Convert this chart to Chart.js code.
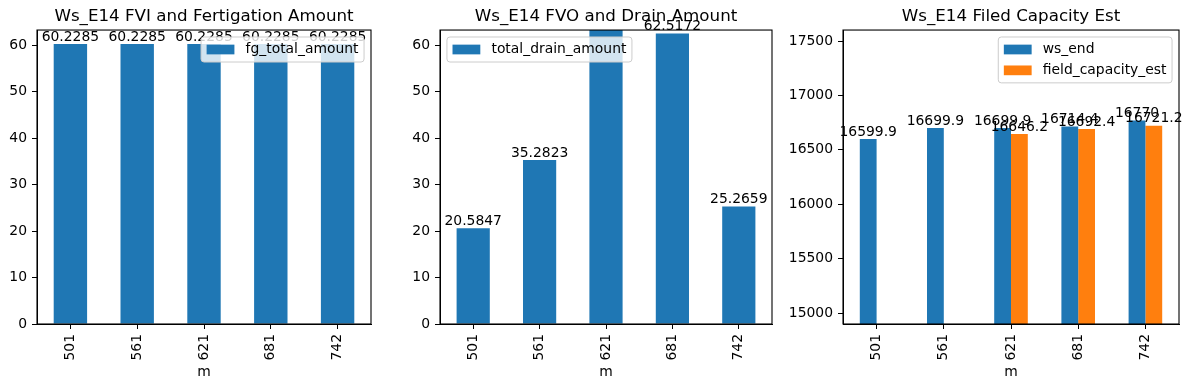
<!DOCTYPE html>
<html>
<head>
<meta charset="utf-8">
<script src="https://cdn.jsdelivr.net/npm/chart.js@4.4.0/dist/chart.umd.min.js"></script>
<style>
  html, body { margin: 0; padding: 0; background: #fff; }
  #fig { position: relative; width: 1189px; height: 390px; overflow: hidden; }
  canvas { position: absolute; top: 0; }
</style>
</head>
<body>
<div id="fig">
  <canvas id="fviChart" width="381" height="390" style="left:0px"></canvas>
  <canvas id="fvoChart" width="379" height="390" style="left:403px"></canvas>
  <canvas id="capChart" width="404" height="390" style="left:785px"></canvas>
</div>
<script>
// Data
const categories = ['501', '561', '621', '681', '742'];
const fgTotalAmount = [60.2285, 60.2285, 60.2285, 60.2285, 60.2285];
const totalDrainAmount = [20.5847, 35.2823, 80, 62.5172, 25.2659]; // 621 goes off the top
const wsEnd = [16599.9, 16699.9, 16699.9, 16714.4, 16770];
const fieldCapacityEst = [null, null, 16646.2, 16692.4, 16721.2];

// y tick labels and axis limits
const amountTicks = [0, 10, 20, 30, 40, 50, 60];
const capacityTicks = [15000, 15500, 16000, 16500, 17000, 17500];
const amountLimits = [0, 63.24];
const capacityLimits = [14899, 17601];

const BLUE = '#1f77b4';
const ORANGE = '#ff7f0e';
const FONT = 'DejaVu Sans';
const font = { family: FONT, size: 13.9 };

// box around the plot area (all four spines)
const frame = {
  id: 'frame',
  afterDatasetsDraw(chart) {
    const { ctx, chartArea: a } = chart;
    ctx.save();
    ctx.strokeStyle = '#000';
    ctx.lineWidth = 1.1;
    ctx.strokeRect(a.left, a.top, a.right - a.left, a.bottom - a.top);
    ctx.restore();
  }
};

// value labels on top of bars
const barLabels = {
  id: 'barLabels',
  afterDatasetsDraw(chart) {
    const ctx = chart.ctx;
    const yMax = chart.scales.y.max;
    ctx.save();
    ctx.font = '13.9px "' + FONT + '"';
    ctx.fillStyle = '#000';
    ctx.textAlign = 'center';
    ctx.textBaseline = 'bottom';
    chart.data.datasets.forEach((ds, i) => {
      chart.getDatasetMeta(i).data.forEach((bar, j) => {
        const v = ds.data[j];
        if (v == null || v > yMax) return;
        ctx.fillText(String(v), bar.x, bar.y);
      });
    });
    ctx.restore();
  }
};

// matplotlib style legend inside the axes
const mplLegend = {
  id: 'mplLegend',
  afterDraw(chart, args, opts) {
    const { ctx, chartArea: a } = chart;
    const fs = 13.9, pad = 0.4 * fs, hl = 2 * fs, hh = 0.7 * fs, htp = 0.8 * fs, ls = 0.5 * fs, bap = 0.5 * fs;
    const items = chart.data.datasets;
    ctx.save();
    ctx.font = fs + 'px "' + FONT + '"';
    const tw = Math.max(...items.map(d => ctx.measureText(d.label).width));
    const w = pad * 2 + hl + htp + tw;
    const h = pad * 2 + items.length * fs + (items.length - 1) * ls;
    const x = opts.loc === 'left' ? a.left + bap : a.right - bap - w;
    const y = a.top + bap;
    ctx.beginPath();
    ctx.roundRect(x, y, w, h, 3);
    ctx.fillStyle = 'rgba(255,255,255,0.8)';
    ctx.fill();
    ctx.strokeStyle = '#cccccc';
    ctx.lineWidth = 1;
    ctx.stroke();
    items.forEach((d, i) => {
      const cy = y + pad + i * (fs + ls) + fs / 2;
      ctx.fillStyle = d.backgroundColor;
      ctx.fillRect(x + pad, cy - hh / 2, hl, hh);
      ctx.fillStyle = '#000';
      ctx.textBaseline = 'middle';
      ctx.textAlign = 'left';
      ctx.fillText(d.label, x + pad + hl + htp, cy);
    });
    ctx.restore();
  }
};

function makeChart(id, title, datasets, limits, yTicks, yAxisWidth, legendLoc) {
  return new Chart(document.getElementById(id).getContext('2d'), {
    type: 'bar',
    data: { labels: categories, datasets: datasets },
    plugins: [frame, barLabels, mplLegend],
    options: {
      responsive: false,
      animation: false,
      events: [],
      layout: { padding: { left: 0, right: 10, top: 0, bottom: 0 } },
      plugins: {
        legend: { display: false },
        tooltip: { enabled: false },
        title: {
          display: true,
          text: title,
          color: '#000',
          fullSize: false,
          font: { family: FONT, size: 16.7, weight: 'normal' },
          padding: { top: 7, bottom: 3 },
        },
        mplLegend: { loc: legendLoc },
      },
      scales: {
        x: {
          offset: true,
          grid: { drawOnChartArea: false, tickLength: 5, color: '#000', offset: false },
          border: { color: '#000' },
          ticks: { color: '#000', font: font, minRotation: 90, maxRotation: 90, autoSkip: false, padding: 5 },
          title: { display: true, text: 'm', color: '#000', font: font, padding: { top: 0, bottom: 9 } },
          afterFit(s) { s.height = 66; },
        },
        y: {
          min: limits[0],
          max: limits[1],
          grid: { drawOnChartArea: false, tickLength: 5, color: '#000' },
          border: { color: '#000' },
          ticks: { color: '#000', font: font, padding: 5, callback: v => String(v) },
          afterBuildTicks(s) { s.ticks = yTicks.map(v => ({ value: v })); },
          afterFit(s) { s.width = yAxisWidth; },
        },
      },
    },
  });
}

makeChart('fviChart', 'Ws_E14 FVI and Fertigation Amount', [
  { label: 'fg_total_amount', data: fgTotalAmount, backgroundColor: BLUE, barPercentage: 0.5, categoryPercentage: 1 },
], amountLimits, amountTicks, 37, 'right');

makeChart('fvoChart', 'Ws_E14 FVO and Drain Amount', [
  { label: 'total_drain_amount', data: totalDrainAmount, backgroundColor: BLUE, barPercentage: 0.5, categoryPercentage: 1 },
], amountLimits, amountTicks, 37, 'left');

makeChart('capChart', 'Ws_E14 Filed Capacity Est', [
  { label: 'ws_end', data: wsEnd, backgroundColor: BLUE, barPercentage: 1, categoryPercentage: 0.5 },
  { label: 'field_capacity_est', data: fieldCapacityEst, backgroundColor: ORANGE, barPercentage: 1, categoryPercentage: 0.5 },
], capacityLimits, capacityTicks, 58, 'right');
</script>
</body>
</html>
